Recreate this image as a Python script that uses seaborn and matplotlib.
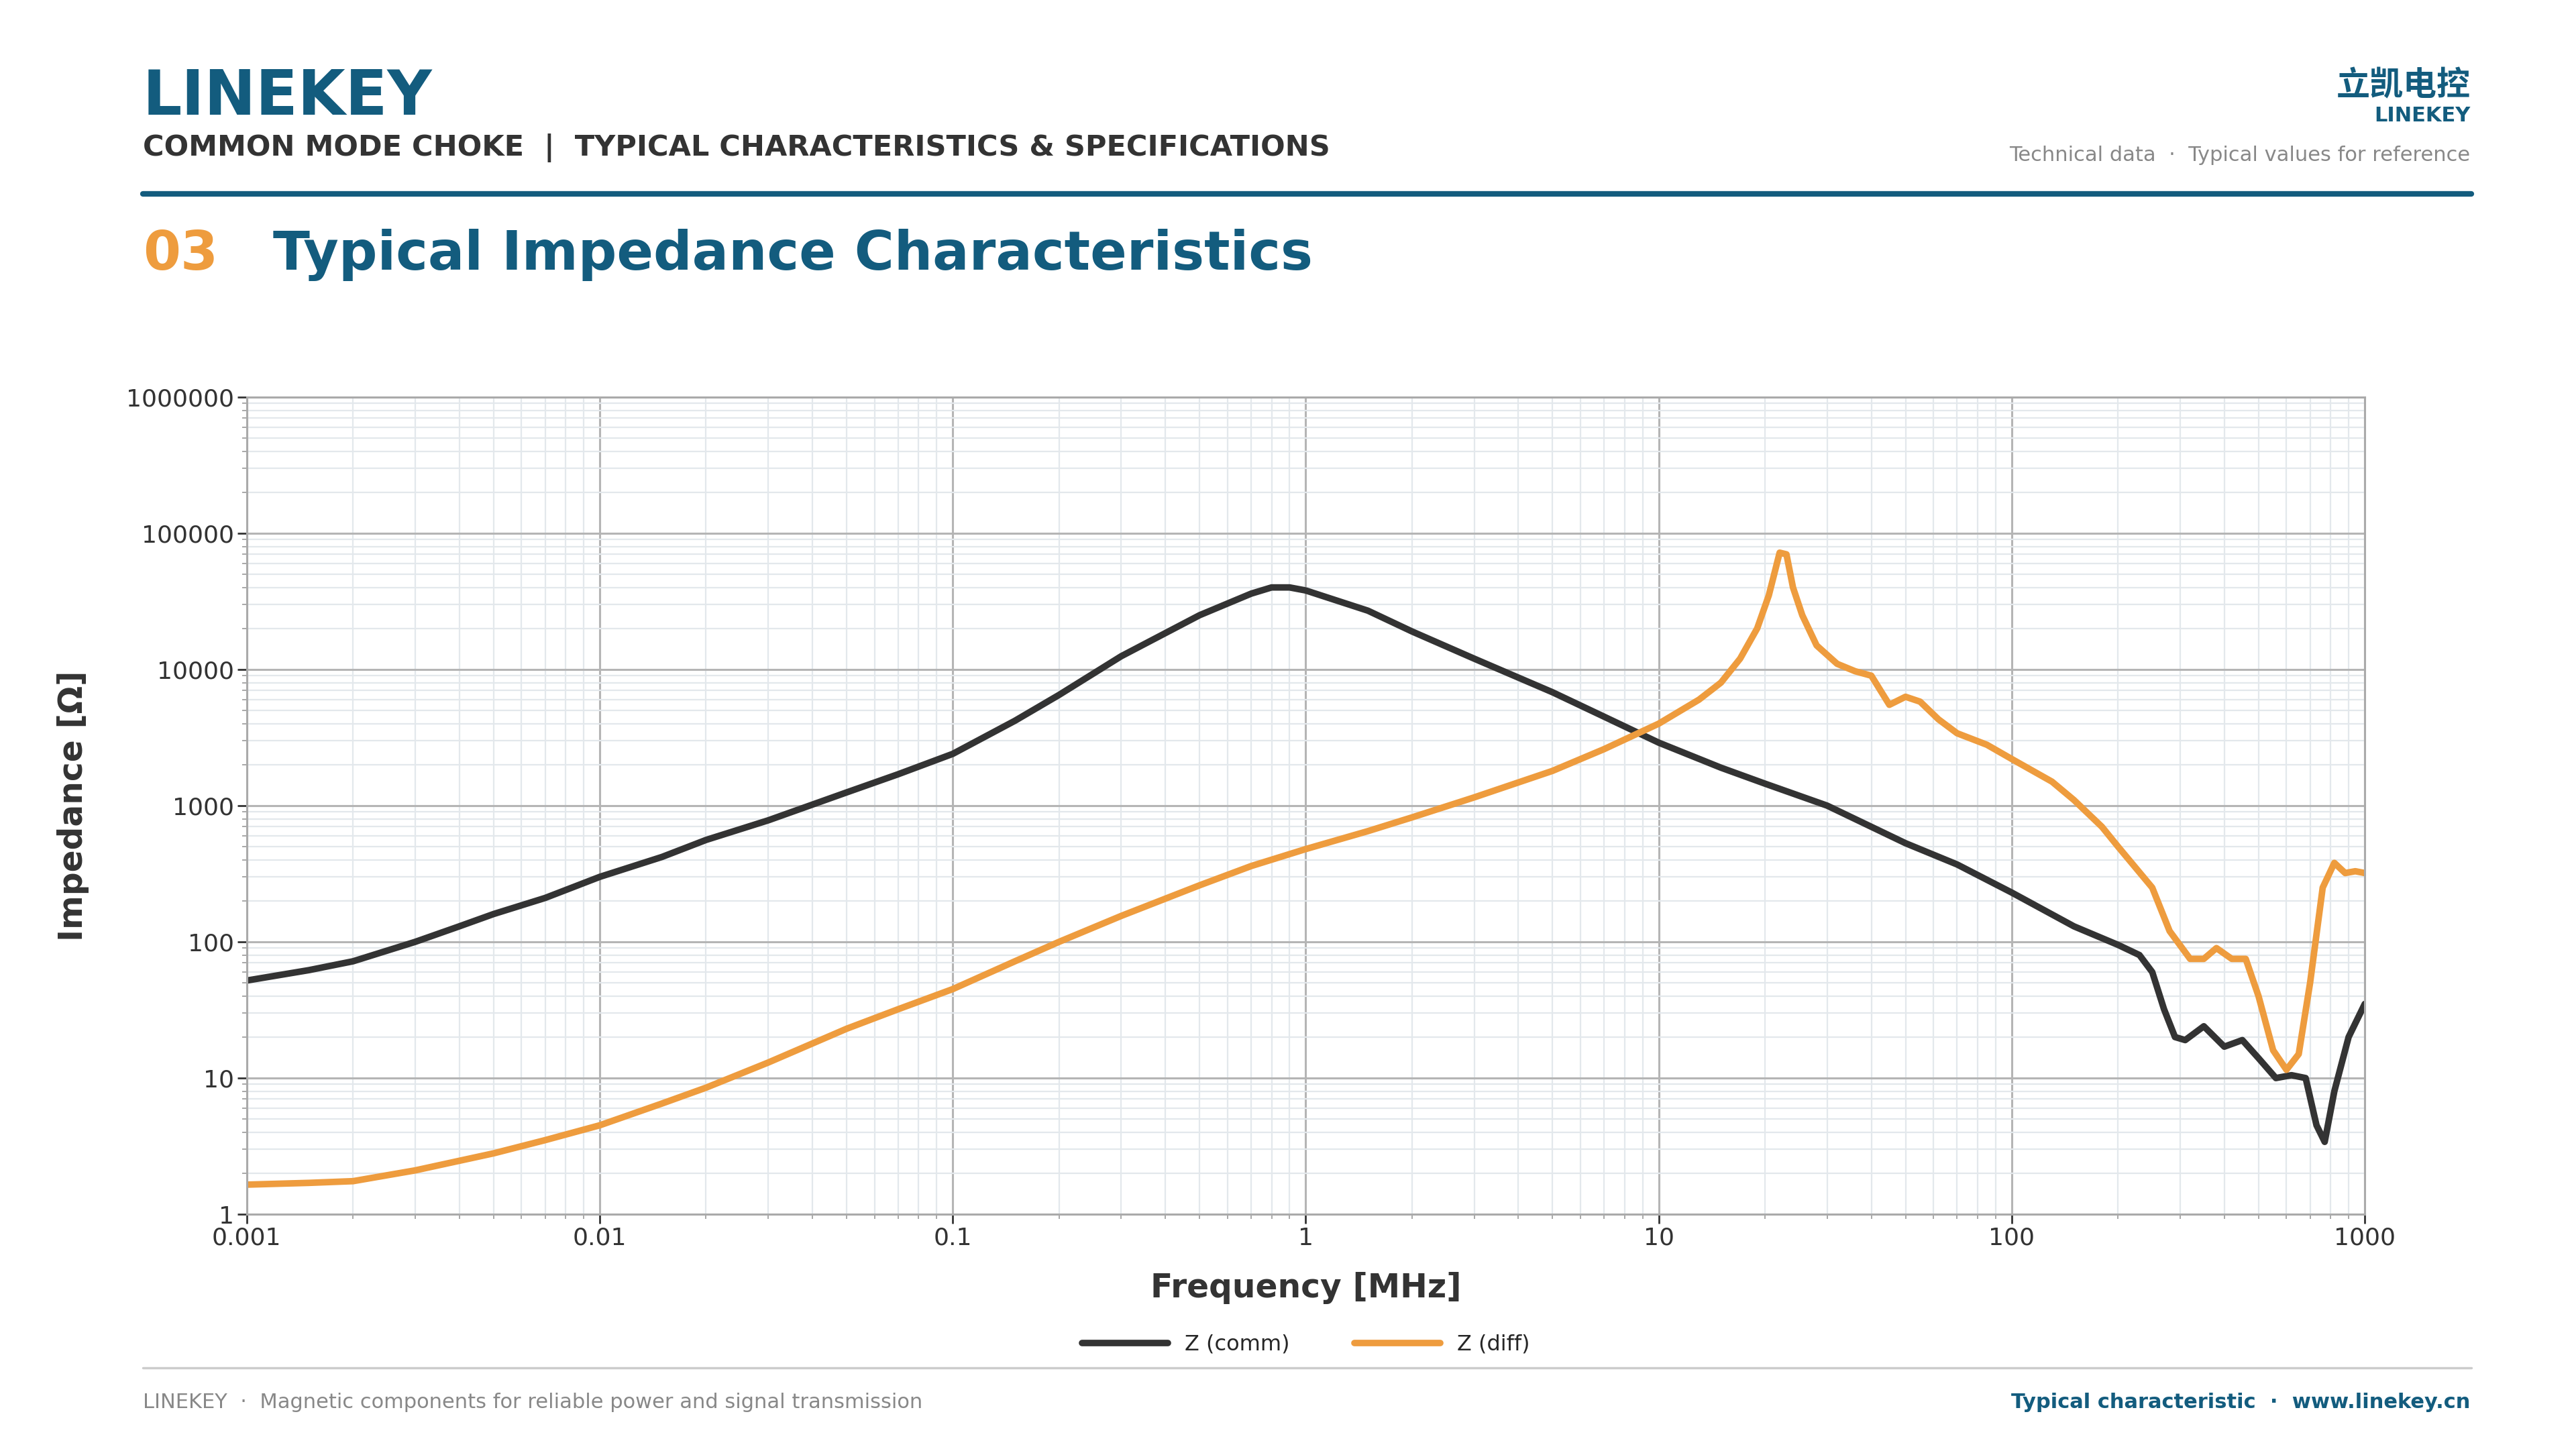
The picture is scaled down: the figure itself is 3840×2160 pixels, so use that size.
import numpy as np
import pandas as pd
import matplotlib
matplotlib.use("Agg")
import matplotlib.pyplot as plt
import seaborn as sns
from matplotlib.lines import Line2D
from matplotlib.ticker import LogLocator, FixedLocator, FixedFormatter

# -------------------------------------------------------
# Data
# -------------------------------------------------------
freq_comm = [0.001, 0.0015, 0.002, 0.003, 0.004, 0.005, 0.007, 0.01, 0.015, 0.02, 0.03,
             0.05, 0.07, 0.1, 0.15, 0.2, 0.3, 0.5, 0.7, 0.8, 0.9, 1, 1.5, 2, 3, 5, 7,
             10, 15, 20, 30, 50, 70, 100, 150, 200, 230, 250, 270, 290, 310, 350,
             400, 450, 500, 560, 620, 680, 730, 770, 820, 900, 1000]
z_comm = [52, 62, 72, 100, 130, 160, 210, 300, 420, 560, 780,
          1250, 1700, 2400, 4200, 6500, 12500, 25000, 36000, 40000, 40000, 38000, 27000,
          19000, 12000, 6800, 4500, 2900, 1900, 1450, 1000, 530, 370, 230, 130, 95,
          80, 60, 32, 20, 19, 24, 17, 19, 14, 10, 10.5, 10, 4.5, 3.4, 8, 20, 35]

freq_diff = [0.001, 0.0015, 0.002, 0.003, 0.005, 0.007, 0.01, 0.015, 0.02, 0.03, 0.05,
             0.07, 0.1, 0.15, 0.2, 0.3, 0.5, 0.7, 1, 1.5, 2, 3, 5, 7, 10, 13, 15, 17,
             19, 20.5, 22, 23, 24, 25.5, 28, 32, 36, 40, 45, 50, 55, 62, 70, 85, 100,
             130, 150, 180, 200, 250, 280, 320, 350, 380, 420, 460, 500, 550, 600, 650,
             700, 760, 820, 880, 940, 1000]
z_diff = [1.65, 1.7, 1.75, 2.1, 2.8, 3.5, 4.5, 6.5, 8.5, 13, 23,
          32, 45, 72, 100, 155, 260, 360, 480, 650, 820, 1150, 1800, 2600, 4000, 6000,
          8000, 12000, 20000, 35000, 72000, 70000, 40000, 25000, 15000, 11000, 9700,
          9000, 5500, 6300, 5800, 4300, 3400, 2800, 2200, 1500, 1100, 700, 500, 250,
          120, 75, 75, 90, 75, 75, 40, 16, 11.5, 15, 50, 250, 380, 320, 330, 320]

series_labels = ["Z (comm)", "Z (diff)"]
series_colors = ["#333333", "#EE9C3E"]

x_ticks = [0.001, 0.01, 0.1, 1, 10, 100, 1000]
x_tick_labels = ["0.001", "0.01", "0.1", "1", "10", "100", "1000"]
y_ticks = [1, 10, 100, 1000, 10000, 100000, 1000000]
y_tick_labels = ["1", "10", "100", "1000", "10000", "100000", "1000000"]

BLUE = "#135C7E"
ORANGE = "#EE9C3E"
DARK = "#333333"
GREY = "#888888"

df = pd.concat([
    pd.DataFrame({"freq": freq_comm, "z": z_comm, "series": series_labels[0]}),
    pd.DataFrame({"freq": freq_diff, "z": z_diff, "series": series_labels[1]}),
])

sns.set_theme(style="white")
plt.rcParams["font.family"] = ["DejaVu Sans", "Noto Sans CJK SC"]

fig = plt.figure(figsize=(38.4, 21.6), dpi=100)
ax = fig.add_axes([0.0958, 0.162, 0.8222, 0.564])

sns.lineplot(data=df, x="freq", y="z", hue="series", palette=series_colors,
             hue_order=series_labels, linewidth=7, ax=ax, sort=False, legend=False)

ax.set_xscale("log")
ax.set_yscale("log")
ax.set_xlim(0.001, 1000)
ax.set_ylim(1, 1000000)
ax.xaxis.set_major_locator(FixedLocator(x_ticks))
ax.xaxis.set_major_formatter(FixedFormatter(x_tick_labels))
ax.yaxis.set_major_locator(FixedLocator(y_ticks))
ax.yaxis.set_major_formatter(FixedFormatter(y_tick_labels))
ax.xaxis.set_minor_locator(LogLocator(base=10, subs=np.arange(2, 10), numticks=20))
ax.yaxis.set_minor_locator(LogLocator(base=10, subs=np.arange(2, 10), numticks=20))
ax.grid(which="major", color="#B5B5B5", linewidth=2.2)
ax.grid(which="minor", color="#E3E8EC", linewidth=1.6)
ax.set_axisbelow(True)
ax.tick_params(axis="both", which="major", labelsize=26, length=10, width=2,
               color=DARK, labelcolor=DARK, bottom=True, left=True)
ax.tick_params(axis="both", which="minor", length=5, width=1.2, color="#999999",
               bottom=True, left=True)
for s in ax.spines.values():
    s.set_color("#AAAAAA")
    s.set_linewidth(2.2)

ax.set_xlabel("Frequency [MHz]", fontsize=35, fontweight="bold", color=DARK, labelpad=24)
ax.set_ylabel("Impedance [Ω]", fontsize=35, fontweight="bold", color=DARK, labelpad=40)

# Legend
handles = [Line2D([0], [0], color=c, lw=7) for c in series_colors]
fig.legend(handles, series_labels, loc="center", bbox_to_anchor=(0.507, 0.072),
           ncol=2, frameon=False, fontsize=23, handlelength=4, columnspacing=3)

# Header
fig.text(0.0555, 0.933, "LINEKEY", fontsize=66, fontweight="bold", color=BLUE, va="center")
fig.text(0.0555, 0.898, "COMMON MODE CHOKE  |  TYPICAL CHARACTERISTICS & SPECIFICATIONS",
         fontsize=31, fontweight="bold", color=DARK, va="center")
fig.text(0.959, 0.941, "立凯电控", fontsize=36, fontweight="bold", color=BLUE,
         ha="right", va="center", family=["Noto Sans CJK SC", "DejaVu Sans"])
fig.text(0.959, 0.920, "LINEKEY", fontsize=22, fontweight="bold", color=BLUE,
         ha="right", va="center")
fig.text(0.959, 0.893, "Technical data  ·  Typical values for reference", fontsize=22,
         color=GREY, ha="right", va="center")
fig.add_artist(Line2D([0.0555, 0.9595], [0.866, 0.866], color=BLUE, lw=6))
fig.text(0.0555, 0.824, "03", fontsize=58, fontweight="bold", color=ORANGE, va="center")
fig.text(0.106, 0.824, "Typical Impedance Characteristics", fontsize=58,
         fontweight="bold", color=BLUE, va="center")

# Footer
fig.add_artist(Line2D([0.0555, 0.9595], [0.056, 0.056], color="#CCCCCC", lw=2.5))
fig.text(0.0555, 0.032, "LINEKEY  ·  Magnetic components for reliable power and signal transmission",
         fontsize=22, color=GREY, va="center")
fig.text(0.959, 0.032, "Typical characteristic  ·  www.linekey.cn", fontsize=22,
         fontweight="bold", color=BLUE, ha="right", va="center")

fig.savefig("out.png", dpi=100, facecolor="white")
